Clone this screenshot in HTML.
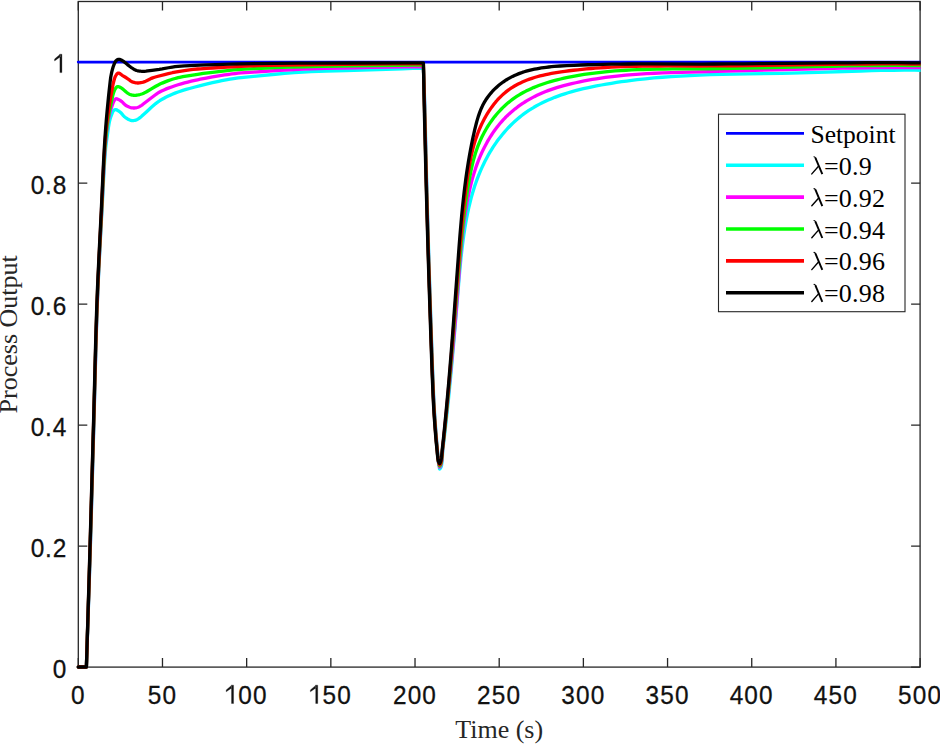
<!DOCTYPE html>
<html><head><meta charset="utf-8"><style>html,body{margin:0;padding:0;background:#fff;overflow:hidden}svg{display:block}</style></head><body>
<svg width="940" height="744" viewBox="0 0 940 744">
<rect width="940" height="744" fill="#fff"/>
<defs><clipPath id="ax"><rect x="0" y="0" width="920.6" height="744"/></clipPath></defs>
<rect x="78.3" y="1.5" width="841.80" height="665.60" fill="none" stroke="#262626" stroke-width="1.3"/>
<path d="M78.30,667.1V658.1M78.30,1.5V10.5M162.48,667.1V658.1M162.48,1.5V10.5M246.66,667.1V658.1M246.66,1.5V10.5M330.84,667.1V658.1M330.84,1.5V10.5M415.02,667.1V658.1M415.02,1.5V10.5M499.20,667.1V658.1M499.20,1.5V10.5M583.38,667.1V658.1M583.38,1.5V10.5M667.56,667.1V658.1M667.56,1.5V10.5M751.74,667.1V658.1M751.74,1.5V10.5M835.92,667.1V658.1M835.92,1.5V10.5M920.10,667.1V658.1M920.10,1.5V10.5M78.3,667.10H87.3M920.1,667.10H911.1M78.3,546.08H87.3M920.1,546.08H911.1M78.3,425.06H87.3M920.1,425.06H911.1M78.3,304.05H87.3M920.1,304.05H911.1M78.3,183.03H87.3M920.1,183.03H911.1M78.3,62.01H87.3M920.1,62.01H911.1" stroke="#262626" stroke-width="1.3" fill="none"/>
<g clip-path="url(#ax)" fill="none" stroke-linejoin="round" stroke-linecap="round">
<line x1="78.3" y1="62.1" x2="925.1" y2="62.1" stroke="#0000ff" stroke-width="2.9"/>
<path d="M78.30,667.00 L86.40,667.00 L89.35,579.68 L90.62,539.39 L91.57,506.98 L94.29,409.78 L95.64,358.62 L96.50,328.67 L97.14,309.38 L97.83,291.99 L98.53,276.16 L99.29,260.66 L100.47,238.17 L102.30,204.45 L103.45,182.11 L104.02,171.54 L104.60,161.90 L104.90,157.54 L105.20,153.56 L105.65,148.40 L105.96,145.53 L106.42,141.84 L107.40,135.00 L108.41,127.64 L108.97,124.12 L109.38,121.98 L109.60,121.00 L110.11,119.05 L110.67,117.27 L111.24,115.65 L112.49,112.41 L112.86,111.65 L113.14,111.20 L113.73,110.51 L114.04,110.21 L114.36,109.95 L114.72,109.75 L115.10,109.63 L115.30,109.60 L115.62,109.61 L115.97,109.67 L116.34,109.78 L117.13,110.13 L117.96,110.60 L118.80,111.14 L120.00,112.00 L120.43,112.35 L120.85,112.74 L121.65,113.61 L122.84,115.04 L123.66,115.97 L124.09,116.41 L124.54,116.82 L125.49,117.56 L126.52,118.26 L127.60,118.93 L128.71,119.53 L129.82,120.03 L130.36,120.22 L130.89,120.38 L131.40,120.50 L131.80,120.56 L132.60,120.62 L133.38,120.59 L134.15,120.48 L134.90,120.32 L135.64,120.12 L136.35,119.87 L136.70,119.72 L137.37,119.38 L138.03,118.99 L138.68,118.56 L140.00,117.60 L140.81,116.97 L141.62,116.29 L142.44,115.56 L146.09,112.20 L149.57,108.96 L151.39,107.33 L155.75,103.60 L157.06,102.55 L158.47,101.52 L160.00,100.50 L161.05,99.85 L162.16,99.21 L164.50,97.93 L165.73,97.29 L168.29,96.05 L169.60,95.44 L172.28,94.26 L175.00,93.15 L178.07,92.00 L179.62,91.46 L182.80,90.43 L186.08,89.44 L189.51,88.48 L195.00,87.00 L200.37,85.61 L206.28,84.15 L212.47,82.70 L218.67,81.33 L221.68,80.69 L227.38,79.57 L230.00,79.10 L231.82,78.80 L235.15,78.30 L238.22,77.90 L241.26,77.57 L261.54,75.53 L275.11,74.24 L284.62,73.41 L294.05,72.66 L298.61,72.33 L303.00,72.05 L306.99,71.83 L310.93,71.64 L318.66,71.34 L326.31,71.12 L345.89,70.63 L402.40,68.74 L412.79,68.42 L423.40,68.15 L424.48,95.53 L424.91,108.60 L425.20,119.76 L425.81,146.33 L426.80,186.39 L427.71,219.58 L428.73,254.33 L429.52,279.40 L430.92,321.48 L432.36,363.04 L432.90,377.52 L433.63,395.00 L434.12,405.00 L434.56,412.55 L435.30,423.22 L435.89,431.05 L436.69,441.14 L437.68,452.44 L438.12,458.64 L438.27,460.58 L438.45,462.30 L438.62,463.49 L438.84,464.66 L439.35,466.91 L439.44,467.57 L439.47,468.66 L439.51,468.89 L439.55,468.96 L439.60,469.00 L439.68,468.99 L439.88,468.86 L440.26,468.42 L440.54,468.02 L440.79,467.60 L441.11,466.92 L441.30,466.35 L441.51,465.40 L441.85,463.06 L442.05,461.31 L442.22,459.26 L442.80,450.00 L444.27,437.73 L445.66,425.52 L447.04,412.85 L448.40,399.72 L449.41,389.64 L450.43,379.08 L451.42,368.52 L452.47,356.96 L453.71,342.88 L455.00,327.76 L458.71,283.07 L459.45,274.36 L460.00,268.21 L460.53,262.57 L461.05,257.44 L461.60,252.33 L462.31,246.20 L463.09,240.08 L463.94,233.99 L464.80,228.43 L465.73,222.90 L466.65,217.89 L467.65,212.91 L468.73,207.95 L469.65,204.01 L470.50,200.59 L471.54,196.69 L472.50,193.30 L473.51,189.92 L474.57,186.57 L475.69,183.24 L476.88,179.93 L478.12,176.64 L479.43,173.38 L480.80,170.14 L482.03,167.39 L483.52,164.20 L485.08,161.04 L486.72,157.90 L488.18,155.24 L489.95,152.16 L491.55,149.54 L493.20,146.95 L494.92,144.38 L496.69,141.85 L498.53,139.35 L500.43,136.89 L502.38,134.47 L504.38,132.09 L506.44,129.77 L508.55,127.49 L510.72,125.28 L512.93,123.12 L515.19,121.02 L517.49,118.99 L519.45,117.36 L521.43,115.77 L523.85,113.93 L526.32,112.17 L528.82,110.48 L531.36,108.85 L533.93,107.29 L536.54,105.80 L539.63,104.14 L542.31,102.78 L545.48,101.26 L548.23,100.02 L551.47,98.65 L554.74,97.34 L558.04,96.11 L561.38,94.93 L564.74,93.82 L568.13,92.77 L572.03,91.63 L575.47,90.69 L579.42,89.67 L583.39,88.71 L587.37,87.81 L591.88,86.85 L596.39,85.94 L601.41,85.00 L606.44,84.10 L611.47,83.26 L616.50,82.47 L621.54,81.72 L626.59,81.02 L631.63,80.37 L637.19,79.70 L645.27,78.81 L653.87,77.98 L662.48,77.25 L671.10,76.62 L680.23,76.04 L689.88,75.53 L699.53,75.10 L710.21,74.71 L721.92,74.37 L735.16,74.07 L747.90,73.84 L781.55,73.29 L791.25,73.10 L799.92,72.90 L808.58,72.67 L818.27,72.37 L860.55,70.99 L871.74,70.67 L881.40,70.45 L893.08,70.25 L904.24,70.16 L914.88,70.17 L925.00,70.30" stroke="#00ffff" stroke-width="3.3"/>
<path d="M78.30,667.00 L86.40,667.00 L89.27,579.68 L90.52,539.39 L91.46,506.98 L94.19,409.78 L95.82,348.53 L96.41,328.67 L97.05,309.38 L97.72,291.99 L98.07,284.04 L98.79,268.37 L99.94,245.55 L101.80,210.00 L103.63,172.55 L104.15,162.89 L104.71,154.05 L105.00,150.00 L105.58,142.77 L106.17,136.25 L106.58,132.25 L107.02,128.51 L107.26,126.73 L107.85,122.70 L108.40,119.51 L108.78,117.54 L109.17,115.66 L109.59,113.87 L109.97,112.34 L110.32,111.08 L110.87,109.30 L111.43,107.61 L112.79,103.73 L113.11,102.87 L113.45,102.07 L113.81,101.33 L114.69,99.83 L114.98,99.43 L115.14,99.25 L115.49,98.97 L115.69,98.87 L115.90,98.80 L116.23,98.76 L116.59,98.79 L116.99,98.88 L117.41,99.02 L118.30,99.41 L118.77,99.65 L119.69,100.18 L121.00,101.00 L121.44,101.31 L121.86,101.65 L122.67,102.42 L124.26,104.07 L125.10,104.85 L125.54,105.19 L126.00,105.50 L126.98,106.06 L127.50,106.32 L128.57,106.80 L129.66,107.22 L130.75,107.56 L131.80,107.81 L132.71,107.95 L133.52,108.01 L134.32,108.01 L135.11,107.95 L136.26,107.77 L137.35,107.50 L138.04,107.26 L138.72,106.97 L139.38,106.64 L140.03,106.28 L141.00,105.70 L141.67,105.27 L142.63,104.57 L150.16,98.68 L155.13,94.96 L157.07,93.57 L158.48,92.67 L159.22,92.23 L161.06,91.25 L162.17,90.71 L164.52,89.65 L165.75,89.13 L168.31,88.13 L172.29,86.68 L175.00,85.75 L178.08,84.75 L181.21,83.81 L184.44,82.92 L187.78,82.05 L191.29,81.20 L195.00,80.35 L197.60,79.78 L200.37,79.21 L206.28,78.05 L212.47,76.92 L218.67,75.86 L224.61,74.92 L227.39,74.51 L231.83,73.91 L235.16,73.53 L238.23,73.23 L241.26,72.98 L253.54,72.09 L265.90,71.24 L275.11,70.65 L284.63,70.09 L294.06,69.58 L303.00,69.15 L310.93,68.83 L318.66,68.58 L326.32,68.38 L354.88,67.74 L371.05,67.43 L423.40,66.50 L424.31,95.16 L424.70,108.64 L426.60,186.39 L427.37,214.42 L428.25,245.15 L429.19,275.28 L430.57,317.14 L432.16,363.04 L432.70,377.52 L433.43,395.00 L433.92,405.00 L434.20,410.00 L434.53,415.17 L434.90,420.55 L435.49,428.55 L436.49,441.10 L437.40,450.97 L437.92,457.63 L438.16,460.24 L438.35,461.71 L438.55,462.84 L439.20,465.53 L439.42,466.89 L439.50,467.11 L439.54,467.17 L439.60,467.20 L439.67,467.19 L439.86,467.06 L440.07,466.81 L440.29,466.48 L440.71,465.71 L441.00,465.02 L441.16,464.47 L441.36,463.54 L441.75,460.96 L442.02,458.28 L442.60,450.00 L444.71,430.32 L446.66,411.82 L448.39,394.94 L450.02,378.61 L451.36,364.86 L452.61,351.62 L453.78,338.88 L454.90,326.11 L455.99,313.30 L457.03,300.45 L457.84,290.13 L459.41,269.37 L460.24,258.97 L461.24,247.53 L461.74,242.35 L462.27,237.17 L462.96,230.97 L463.65,225.30 L464.39,219.65 L465.12,214.54 L465.99,208.94 L466.85,203.87 L467.77,198.82 L468.67,194.31 L469.42,190.81 L470.21,187.33 L471.05,183.86 L471.94,180.41 L472.89,176.98 L473.75,174.05 L474.82,170.66 L475.78,167.76 L476.97,164.40 L478.05,161.53 L479.18,158.68 L480.37,155.85 L481.62,153.03 L482.94,150.23 L484.31,147.45 L485.51,145.15 L487.00,142.42 L488.30,140.16 L489.91,137.48 L491.31,135.27 L493.04,132.67 L494.53,130.53 L496.39,128.01 L497.98,125.95 L499.95,123.53 L501.65,121.57 L503.39,119.64 L505.17,117.77 L507.00,115.95 L508.88,114.17 L510.80,112.44 L513.15,110.44 L515.16,108.82 L517.61,106.94 L519.70,105.43 L522.25,103.68 L524.41,102.27 L527.04,100.65 L529.27,99.35 L531.98,97.85 L534.27,96.65 L537.04,95.28 L539.85,93.98 L542.69,92.74 L545.08,91.76 L547.97,90.65 L550.88,89.60 L553.81,88.61 L556.76,87.67 L560.22,86.64 L563.70,85.68 L567.69,84.64 L571.69,83.66 L575.70,82.74 L579.71,81.87 L584.24,80.96 L588.26,80.20 L592.30,79.48 L596.34,78.82 L600.89,78.12 L605.45,77.47 L610.01,76.88 L614.58,76.33 L619.16,75.83 L625.78,75.18 L632.42,74.62 L639.58,74.09 L646.75,73.64 L654.45,73.24 L662.68,72.88 L671.43,72.57 L681.23,72.28 L726.29,71.18 L784.49,69.60 L804.74,69.07 L824.44,68.60 L842.55,68.22 L853.91,68.01 L865.24,67.84 L876.03,67.71 L886.29,67.61 L896.51,67.56 L906.21,67.54 L915.87,67.55 L925.00,67.60" stroke="#ff00ff" stroke-width="3.3"/>
<path d="M78.30,667.00 L86.40,667.00 L89.19,579.68 L90.42,539.39 L91.35,506.98 L94.09,409.78 L95.72,348.53 L96.31,328.67 L96.95,309.38 L97.62,291.99 L97.97,284.04 L98.70,268.37 L99.46,253.05 L101.70,210.00 L103.23,177.62 L103.73,167.63 L104.25,158.36 L104.52,154.05 L104.99,147.51 L105.56,140.56 L106.14,134.29 L106.76,128.57 L107.36,123.76 L108.04,119.16 L108.75,114.98 L109.30,112.00 L109.76,109.63 L111.36,102.24 L112.31,97.55 L112.65,96.05 L113.01,94.65 L113.50,93.05 L113.95,91.69 L114.27,90.85 L114.62,90.06 L115.00,89.34 L115.88,87.97 L116.44,87.29 L116.84,86.93 L117.05,86.79 L117.27,86.68 L117.50,86.60 L117.75,86.56 L118.02,86.56 L118.30,86.60 L118.89,86.77 L119.51,87.02 L121.00,87.80 L121.61,88.17 L122.50,88.82 L125.01,90.93 L126.47,92.22 L127.23,92.82 L128.05,93.36 L128.89,93.87 L129.48,94.18 L130.07,94.46 L130.69,94.70 L131.34,94.90 L132.03,95.05 L132.74,95.17 L133.46,95.25 L134.57,95.30 L135.30,95.30 L136.07,95.26 L136.85,95.17 L138.03,94.97 L138.82,94.80 L140.00,94.50 L141.64,93.99 L142.46,93.70 L143.71,93.19 L145.00,92.60 L146.11,92.03 L147.82,91.03 L151.40,88.85 L155.78,86.30 L157.79,85.19 L160.00,84.10 L162.18,83.12 L164.53,82.13 L167.03,81.14 L168.31,80.65 L170.95,79.72 L172.29,79.28 L175.00,78.47 L176.53,78.06 L178.08,77.68 L179.64,77.33 L182.81,76.69 L187.79,75.83 L197.60,74.30 L203.28,73.49 L212.49,72.28 L218.68,71.53 L227.39,70.57 L233.54,69.96 L238.24,69.58 L244.45,69.17 L253.54,68.66 L261.54,68.27 L275.11,67.71 L289.38,67.18 L303.00,66.75 L310.93,66.54 L322.49,66.29 L354.88,65.78 L376.66,65.48 L397.85,65.23 L412.79,65.07 L423.40,65.00 L424.59,108.67 L426.50,186.39 L427.27,214.42 L428.01,240.18 L428.96,271.16 L430.33,312.80 L431.97,360.56 L432.60,377.52 L433.33,395.00 L433.69,402.50 L433.95,407.50 L434.26,412.55 L434.80,420.57 L435.78,433.57 L436.48,442.09 L437.30,450.65 L437.81,456.95 L438.06,459.42 L438.31,461.18 L438.60,462.52 L439.14,464.58 L439.36,465.58 L439.49,465.91 L439.60,466.00 L439.67,465.99 L439.84,465.86 L440.14,465.48 L440.53,464.77 L440.89,463.94 L441.05,463.41 L441.25,462.54 L441.65,460.11 L441.91,457.64 L442.50,450.00 L443.69,439.54 L444.87,428.58 L446.06,417.12 L447.19,405.68 L448.17,395.30 L449.13,384.92 L450.14,373.52 L451.17,361.60 L453.03,339.33 L457.19,288.44 L459.31,263.37 L460.24,252.89 L461.00,244.50 L461.76,236.62 L462.50,229.28 L463.35,221.43 L464.21,214.12 L465.05,207.35 L465.96,200.61 L466.94,193.90 L467.90,187.73 L468.94,181.60 L469.95,176.01 L470.64,172.47 L471.27,169.45 L471.93,166.44 L472.64,163.44 L473.39,160.45 L474.06,157.97 L474.78,155.49 L475.53,153.03 L476.34,150.58 L477.19,148.13 L478.10,145.70 L479.07,143.28 L480.10,140.86 L481.19,138.46 L482.35,136.07 L483.32,134.17 L484.58,131.82 L485.91,129.48 L487.30,127.18 L488.74,124.90 L490.24,122.66 L491.79,120.46 L493.40,118.30 L494.72,116.60 L496.42,114.52 L498.16,112.49 L499.95,110.52 L501.42,108.99 L503.30,107.12 L504.83,105.68 L506.39,104.28 L508.37,102.59 L510.40,100.96 L512.46,99.41 L514.56,97.91 L516.70,96.48 L518.86,95.10 L521.07,93.79 L523.30,92.53 L526.02,91.09 L528.31,89.95 L531.10,88.65 L533.45,87.61 L536.31,86.44 L538.71,85.51 L541.62,84.45 L544.55,83.45 L547.51,82.50 L550.49,81.61 L554.00,80.63 L557.02,79.84 L560.56,78.98 L564.11,78.17 L567.68,77.41 L571.76,76.60 L575.85,75.84 L579.95,75.14 L584.05,74.48 L588.15,73.88 L592.27,73.32 L596.38,72.80 L601.02,72.27 L605.15,71.85 L609.79,71.41 L614.97,70.98 L620.14,70.61 L625.85,70.25 L631.56,69.95 L637.28,69.70 L643.52,69.48 L649.78,69.30 L656.56,69.16 L664.40,69.04 L672.77,68.96 L700.56,68.81 L710.54,68.74 L721.59,68.61 L733.69,68.43 L747.38,68.17 L762.65,67.85 L812.10,66.66 L829.94,66.26 L847.74,65.91 L863.40,65.67 L880.05,65.51 L895.61,65.46 L910.59,65.52 L917.80,65.60 L925.00,65.70" stroke="#00ff00" stroke-width="3.3"/>
<path d="M78.30,667.00 L86.40,667.00 L89.11,579.68 L90.31,539.39 L93.99,409.78 L95.63,348.53 L96.22,328.67 L96.85,309.38 L97.52,291.99 L97.86,284.04 L98.57,268.37 L99.32,253.05 L101.50,210.00 L103.01,177.62 L103.74,162.90 L104.24,154.05 L104.67,147.53 L105.31,138.67 L105.82,132.72 L106.39,126.95 L107.02,121.46 L107.72,116.20 L108.70,109.53 L109.56,103.97 L110.34,99.32 L112.59,86.72 L112.98,84.71 L113.39,82.85 L114.05,80.28 L114.49,78.70 L114.81,77.73 L115.18,76.83 L115.60,76.00 L116.35,74.74 L116.76,74.16 L116.98,73.89 L117.20,73.66 L117.44,73.46 L117.68,73.29 L117.93,73.17 L118.20,73.10 L118.54,73.09 L118.89,73.16 L119.27,73.30 L119.66,73.50 L120.49,74.02 L122.60,75.54 L125.43,77.28 L127.80,78.80 L128.51,79.30 L130.20,80.60 L130.89,81.09 L131.62,81.51 L132.00,81.70 L132.41,81.88 L133.28,82.19 L134.18,82.46 L135.11,82.68 L136.02,82.85 L136.89,82.97 L137.63,83.02 L138.27,83.01 L138.88,82.96 L139.48,82.88 L141.97,82.40 L143.26,82.08 L144.63,81.63 L145.52,81.29 L146.06,81.05 L147.18,80.49 L150.16,78.92 L151.39,78.35 L152.63,77.86 L154.51,77.24 L157.11,76.51 L164.56,74.56 L168.35,73.63 L172.31,72.74 L176.54,71.91 L181.23,71.09 L186.11,70.35 L189.53,69.89 L193.13,69.46 L197.60,69.01 L200.38,68.77 L206.30,68.35 L212.49,67.98 L227.39,67.20 L241.27,66.36 L246.18,66.11 L250.00,65.95 L257.40,65.71 L270.45,65.40 L284.63,65.14 L303.00,64.85 L322.49,64.60 L392.91,63.97 L411.45,63.84 L423.40,63.80 L426.23,179.49 L426.89,204.28 L427.76,235.10 L428.73,267.00 L430.08,308.48 L431.37,346.28 L432.13,367.89 L432.50,377.52 L433.23,395.00 L433.59,402.50 L433.85,407.50 L434.16,412.55 L434.70,420.58 L435.29,428.61 L435.86,435.91 L436.47,442.97 L437.20,450.32 L437.71,456.28 L437.96,458.59 L438.21,460.25 L438.56,461.81 L439.33,464.41 L439.48,464.72 L439.60,464.80 L439.67,464.79 L439.83,464.67 L440.01,464.44 L440.19,464.15 L440.60,463.31 L440.86,462.61 L441.08,461.82 L441.27,460.92 L441.45,459.90 L441.64,458.56 L441.89,456.15 L442.40,450.00 L443.61,438.83 L444.82,427.17 L446.03,415.01 L447.18,402.89 L448.19,391.85 L449.21,380.30 L450.29,367.71 L451.37,354.61 L453.26,331.04 L457.55,276.32 L459.57,251.38 L460.34,242.32 L461.09,233.79 L461.78,226.32 L462.50,218.87 L463.32,210.89 L464.14,203.47 L465.00,196.07 L465.85,189.22 L466.76,182.40 L467.72,175.62 L468.52,170.43 L469.39,165.26 L469.95,162.17 L470.55,159.09 L471.19,156.02 L471.88,152.97 L472.62,149.92 L473.27,147.39 L474.11,144.36 L474.86,141.85 L475.65,139.35 L476.49,136.86 L477.38,134.37 L478.33,131.90 L479.33,129.43 L480.38,126.98 L481.50,124.54 L482.43,122.61 L483.65,120.21 L484.92,117.83 L486.25,115.50 L487.35,113.65 L488.78,111.38 L489.97,109.59 L491.50,107.40 L492.77,105.69 L494.40,103.59 L495.74,101.96 L497.47,99.98 L498.90,98.44 L500.73,96.58 L502.23,95.14 L503.77,93.76 L505.34,92.42 L506.95,91.15 L508.59,89.92 L510.26,88.74 L512.40,87.35 L514.14,86.28 L516.36,85.02 L518.16,84.06 L520.46,82.92 L522.32,82.05 L524.69,81.03 L527.09,80.07 L529.52,79.16 L531.98,78.32 L534.47,77.52 L536.99,76.78 L540.05,75.95 L542.62,75.31 L545.73,74.59 L548.35,74.04 L551.50,73.42 L554.68,72.85 L557.87,72.33 L561.07,71.84 L564.82,71.31 L569.11,70.76 L573.39,70.25 L577.67,69.77 L581.95,69.33 L586.23,68.93 L591.04,68.51 L595.31,68.18 L600.11,67.84 L605.44,67.50 L611.30,67.18 L617.15,66.90 L623.00,66.67 L629.37,66.47 L635.75,66.30 L642.64,66.17 L649.53,66.07 L658.54,66.00 L668.06,65.96 L699.24,65.99 L710.32,65.97 L721.92,65.92 L734.04,65.82 L748.27,65.67 L764.08,65.45 L814.70,64.64 L833.18,64.37 L850.62,64.16 L866.51,64.02 L882.42,63.95 L897.29,63.96 L911.67,64.04 L925.00,64.20" stroke="#ff0000" stroke-width="3.3"/>
<path d="M78.30,667.00 L86.40,667.00 L89.32,569.86 L90.83,517.86 L93.88,409.78 L95.20,358.62 L95.75,338.54 L96.34,318.95 L96.66,309.38 L97.32,291.99 L98.01,276.16 L99.12,253.05 L101.30,210.00 L103.04,172.55 L103.51,162.90 L104.20,150.00 L104.76,140.76 L105.46,130.80 L106.18,121.51 L107.08,111.44 L108.39,97.97 L108.96,92.54 L110.02,82.82 L110.42,79.46 L110.73,77.30 L110.91,76.24 L111.28,74.29 L111.67,72.47 L112.10,70.67 L112.55,68.93 L113.03,67.29 L113.28,66.52 L113.80,65.10 L114.36,63.72 L114.74,62.86 L115.15,62.07 L115.58,61.36 L116.05,60.76 L116.50,60.32 L116.91,60.01 L117.56,59.63 L118.02,59.45 L118.50,59.34 L119.00,59.30 L119.34,59.33 L119.69,59.40 L120.06,59.51 L120.43,59.65 L121.21,60.02 L121.99,60.46 L122.76,60.93 L123.87,61.65 L124.24,61.91 L125.32,62.78 L127.44,64.61 L129.54,66.24 L130.93,67.28 L132.00,68.00 L133.74,69.12 L134.81,69.73 L135.54,70.09 L136.30,70.40 L136.70,70.53 L137.55,70.76 L138.42,70.94 L139.30,71.07 L140.59,71.23 L142.02,71.35 L142.88,71.38 L144.34,71.34 L146.03,71.20 L147.73,70.96 L152.00,70.30 L159.25,69.37 L162.21,68.90 L168.35,67.75 L172.32,67.08 L175.00,66.72 L178.10,66.40 L181.24,66.15 L184.47,65.95 L200.38,65.17 L206.30,64.90 L215.61,64.53 L230.00,64.03 L239.75,63.78 L253.54,63.55 L275.12,63.31 L298.61,63.13 L314.81,63.05 L350.00,63.00 L406.48,62.81 L423.40,62.80 L423.98,94.35 L424.46,116.21 L426.11,182.89 L427.11,219.58 L428.13,254.33 L429.19,287.61 L430.89,338.39 L431.84,365.48 L432.30,377.52 L433.14,397.50 L433.52,405.00 L433.80,410.00 L434.13,415.19 L434.69,423.32 L435.28,431.19 L435.83,438.06 L436.26,442.89 L437.08,450.78 L437.51,455.60 L437.67,457.09 L437.85,458.41 L438.01,459.33 L438.21,460.24 L438.56,461.54 L438.80,462.20 L439.19,463.12 L439.40,463.46 L439.53,463.58 L439.60,463.60 L439.67,463.58 L439.80,463.46 L440.01,463.12 L440.40,462.20 L440.64,461.54 L440.86,460.79 L441.06,459.95 L441.25,459.00 L441.44,457.77 L441.69,455.58 L442.20,450.00 L443.24,440.31 L444.34,429.57 L446.12,411.36 L447.40,397.47 L448.66,383.08 L449.91,368.18 L451.20,352.22 L452.40,336.80 L453.68,319.77 L458.93,248.63 L459.98,235.16 L460.98,223.30 L461.71,215.22 L462.50,207.14 L463.29,199.62 L464.08,192.64 L464.93,185.67 L465.77,179.25 L466.67,172.85 L467.64,166.47 L468.31,162.22 L469.03,157.99 L469.77,153.76 L470.55,149.54 L471.36,145.34 L472.21,141.14 L473.10,136.96 L473.91,133.31 L474.74,129.67 L475.49,126.56 L476.28,123.47 L476.97,120.90 L477.71,118.36 L478.50,115.84 L479.36,113.35 L480.09,111.38 L480.87,109.43 L481.71,107.50 L482.60,105.60 L483.56,103.73 L484.58,101.90 L485.40,100.54 L486.25,99.20 L487.45,97.45 L488.40,96.16 L489.71,94.47 L491.10,92.83 L492.53,91.23 L494.03,89.67 L495.57,88.17 L497.16,86.71 L498.80,85.31 L500.05,84.29 L501.76,82.99 L503.06,82.04 L504.82,80.84 L506.16,79.98 L507.97,78.88 L509.34,78.10 L511.20,77.11 L512.60,76.40 L514.50,75.50 L516.41,74.66 L518.35,73.87 L520.31,73.13 L522.28,72.44 L524.28,71.79 L526.29,71.19 L528.32,70.63 L530.37,70.11 L532.43,69.62 L534.51,69.18 L536.59,68.77 L539.22,68.30 L541.34,67.96 L544.00,67.58 L546.14,67.30 L548.82,66.99 L551.52,66.72 L554.22,66.47 L560.20,66.02 L566.74,65.64 L573.83,65.30 L580.91,65.01 L587.98,64.75 L595.58,64.53 L603.17,64.34 L611.29,64.19 L619.94,64.07 L628.57,63.99 L638.81,63.93 L649.57,63.91 L701.54,64.04 L714.37,64.02 L728.25,63.97 L743.19,63.87 L760.26,63.72 L832.90,62.92 L850.58,62.78 L866.68,62.70 L882.29,62.67 L897.39,62.71 L911.45,62.80 L925.00,62.95" stroke="#000000" stroke-width="3.3"/>
</g>
<g font-family="&quot;Liberation Sans&quot;, sans-serif" font-size="26.5" fill="#111" stroke="#111" stroke-width="0.3"><text transform="translate(77.70,703.50) scale(0.92,1)" x="-7.37" y="0">0</text><text transform="translate(154.51,703.50) scale(0.92,1)" x="-7.37" y="0">5</text><text transform="translate(169.25,703.50) scale(0.92,1)" x="-7.37" y="0">0</text><path d="M231.54,703.50V685.93L231.22,685.14H233.55V703.50ZM231.80,685.14L226.21,689.93L226.21,691.84L232.07,687.65Z"/><text transform="translate(245.00,703.50) scale(0.92,1)" x="-7.37" y="0">0</text><text transform="translate(259.73,703.50) scale(0.92,1)" x="-7.37" y="0">0</text><path d="M315.72,703.50V685.93L315.40,685.14H317.73V703.50ZM315.98,685.14L310.39,689.93L310.39,691.84L316.25,687.65Z"/><text transform="translate(329.18,703.50) scale(0.92,1)" x="-7.37" y="0">5</text><text transform="translate(343.91,703.50) scale(0.92,1)" x="-7.37" y="0">0</text><text transform="translate(399.69,703.50) scale(0.92,1)" x="-7.37" y="0">2</text><text transform="translate(414.42,703.50) scale(0.92,1)" x="-7.37" y="0">0</text><text transform="translate(429.15,703.50) scale(0.92,1)" x="-7.37" y="0">0</text><text transform="translate(483.87,703.50) scale(0.92,1)" x="-7.37" y="0">2</text><text transform="translate(498.60,703.50) scale(0.92,1)" x="-7.37" y="0">5</text><text transform="translate(513.33,703.50) scale(0.92,1)" x="-7.37" y="0">0</text><text transform="translate(568.05,703.50) scale(0.92,1)" x="-7.37" y="0">3</text><text transform="translate(582.78,703.50) scale(0.92,1)" x="-7.37" y="0">0</text><text transform="translate(597.51,703.50) scale(0.92,1)" x="-7.37" y="0">0</text><text transform="translate(652.23,703.50) scale(0.92,1)" x="-7.37" y="0">3</text><text transform="translate(666.96,703.50) scale(0.92,1)" x="-7.37" y="0">5</text><text transform="translate(681.69,703.50) scale(0.92,1)" x="-7.37" y="0">0</text><text transform="translate(736.41,703.50) scale(0.92,1)" x="-7.37" y="0">4</text><text transform="translate(751.14,703.50) scale(0.92,1)" x="-7.37" y="0">0</text><text transform="translate(765.87,703.50) scale(0.92,1)" x="-7.37" y="0">0</text><text transform="translate(820.59,703.50) scale(0.92,1)" x="-7.37" y="0">4</text><text transform="translate(835.32,703.50) scale(0.92,1)" x="-7.37" y="0">5</text><text transform="translate(850.05,703.50) scale(0.92,1)" x="-7.37" y="0">0</text><text transform="translate(904.77,703.50) scale(0.92,1)" x="-7.37" y="0">5</text><text transform="translate(919.50,703.50) scale(0.92,1)" x="-7.37" y="0">0</text><text transform="translate(934.23,703.50) scale(0.92,1)" x="-7.37" y="0">0</text><text transform="translate(59.53,677.70) scale(0.92,1)" x="-7.37" y="0">0</text><text transform="translate(37.43,556.68) scale(0.92,1)" x="-7.37" y="0">0</text><text transform="translate(48.48,556.68) scale(0.92,1)" x="-3.68" y="0">.</text><text transform="translate(59.53,556.68) scale(0.92,1)" x="-7.37" y="0">2</text><text transform="translate(37.43,435.66) scale(0.92,1)" x="-7.37" y="0">0</text><text transform="translate(48.48,435.66) scale(0.92,1)" x="-3.68" y="0">.</text><text transform="translate(59.53,435.66) scale(0.92,1)" x="-7.37" y="0">4</text><text transform="translate(37.43,314.65) scale(0.92,1)" x="-7.37" y="0">0</text><text transform="translate(48.48,314.65) scale(0.92,1)" x="-3.68" y="0">.</text><text transform="translate(59.53,314.65) scale(0.92,1)" x="-7.37" y="0">6</text><text transform="translate(37.43,193.63) scale(0.92,1)" x="-7.37" y="0">0</text><text transform="translate(48.48,193.63) scale(0.92,1)" x="-3.68" y="0">.</text><text transform="translate(59.53,193.63) scale(0.92,1)" x="-7.37" y="0">8</text><path d="M59.91,72.61V55.04L59.59,54.24H61.92V72.61ZM60.17,54.24L54.58,59.04L54.58,60.95L60.44,56.76Z"/></g>
<text x="499.20" y="738" text-anchor="middle" font-family="&quot;Liberation Serif&quot;, serif" font-size="26" fill="#262626">Time (s)</text>
<text transform="translate(17.4,334.30) rotate(-90)" text-anchor="middle" font-family="&quot;Liberation Serif&quot;, serif" font-size="26" fill="#262626">Process Output</text>
<rect x="718.5" y="114.2" width="186.5" height="197.5" fill="#fff" stroke="#262626" stroke-width="1.1"/>
<line x1="726" y1="133.30" x2="804" y2="133.30" stroke="#0000ff" stroke-width="2.8"/>
<text x="810.5" y="142.80" font-family="&quot;Liberation Serif&quot;, serif" font-size="25.5" fill="#000">Setpoint</text>
<line x1="726" y1="165.20" x2="804" y2="165.20" stroke="#00ffff" stroke-width="3.6"/>
<g transform="translate(810.8,174.70)" fill="none" stroke="#000"><path d="M4.6,-16.9 L11.5,-0.5" stroke-width="1.9"/><path d="M3.2,-18.0 Q4.6,-17.6 5.0,-16.2" stroke-width="1.1" stroke-linecap="round"/><path d="M7.7,-8.4 L1.0,-0.8" stroke-width="1.4" stroke-linecap="round"/></g>
<text x="824.0" y="174.70" font-family="&quot;Liberation Serif&quot;, serif" font-size="26" fill="#000" letter-spacing="0.2">=0.9</text>
<line x1="726" y1="197.10" x2="804" y2="197.10" stroke="#ff00ff" stroke-width="3.6"/>
<g transform="translate(810.8,206.60)" fill="none" stroke="#000"><path d="M4.6,-16.9 L11.5,-0.5" stroke-width="1.9"/><path d="M3.2,-18.0 Q4.6,-17.6 5.0,-16.2" stroke-width="1.1" stroke-linecap="round"/><path d="M7.7,-8.4 L1.0,-0.8" stroke-width="1.4" stroke-linecap="round"/></g>
<text x="824.0" y="206.60" font-family="&quot;Liberation Serif&quot;, serif" font-size="26" fill="#000" letter-spacing="0.2">=0.92</text>
<line x1="726" y1="229.00" x2="804" y2="229.00" stroke="#00ff00" stroke-width="3.6"/>
<g transform="translate(810.8,238.50)" fill="none" stroke="#000"><path d="M4.6,-16.9 L11.5,-0.5" stroke-width="1.9"/><path d="M3.2,-18.0 Q4.6,-17.6 5.0,-16.2" stroke-width="1.1" stroke-linecap="round"/><path d="M7.7,-8.4 L1.0,-0.8" stroke-width="1.4" stroke-linecap="round"/></g>
<text x="824.0" y="238.50" font-family="&quot;Liberation Serif&quot;, serif" font-size="26" fill="#000" letter-spacing="0.2">=0.94</text>
<line x1="726" y1="260.90" x2="804" y2="260.90" stroke="#ff0000" stroke-width="3.6"/>
<g transform="translate(810.8,270.40)" fill="none" stroke="#000"><path d="M4.6,-16.9 L11.5,-0.5" stroke-width="1.9"/><path d="M3.2,-18.0 Q4.6,-17.6 5.0,-16.2" stroke-width="1.1" stroke-linecap="round"/><path d="M7.7,-8.4 L1.0,-0.8" stroke-width="1.4" stroke-linecap="round"/></g>
<text x="824.0" y="270.40" font-family="&quot;Liberation Serif&quot;, serif" font-size="26" fill="#000" letter-spacing="0.2">=0.96</text>
<line x1="726" y1="292.80" x2="804" y2="292.80" stroke="#000000" stroke-width="3.6"/>
<g transform="translate(810.8,302.30)" fill="none" stroke="#000"><path d="M4.6,-16.9 L11.5,-0.5" stroke-width="1.9"/><path d="M3.2,-18.0 Q4.6,-17.6 5.0,-16.2" stroke-width="1.1" stroke-linecap="round"/><path d="M7.7,-8.4 L1.0,-0.8" stroke-width="1.4" stroke-linecap="round"/></g>
<text x="824.0" y="302.30" font-family="&quot;Liberation Serif&quot;, serif" font-size="26" fill="#000" letter-spacing="0.2">=0.98</text>
</svg>
</body></html>
